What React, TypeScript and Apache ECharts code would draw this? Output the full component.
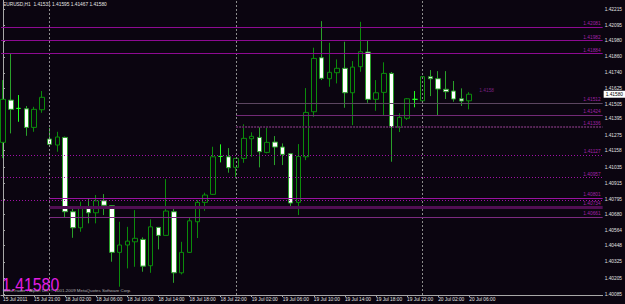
import React, { useEffect, useRef } from "react";
import * as echarts from "echarts";

// ---- data (EURUSD H1, bar 0 = 15 Jul 2011 17:00) ----
const headerText = "EURUSD,H1  1.41531 1.41595 1.41467 1.41580";
const lastPrice = 1.4158;
const lastPriceText = "1.41580";
const copyrightText = "MetaTrader - Alpari UK, © 2001-2009 MetaQuotes Software Corp.";

const opens = [1.41220, 1.41536, 1.41474, 1.41471, 1.41332, 1.41464, 1.41245, 1.41200, 1.41257, 1.40701, 1.40581, 1.40736, 1.40693, 1.40783, 1.40746, 1.40397, 1.40452, 1.40476, 1.40494, 1.40297, 1.40584, 1.40524, 1.40701, 1.40244, 1.40397, 1.40626, 1.40771, 1.40831, 1.41115, 1.41112, 1.41033, 1.41100, 1.41247, 1.41257, 1.41145, 1.41222, 1.41185, 1.41135, 1.40771, 1.41112, 1.41449, 1.41853, 1.41696, 1.41741, 1.41774, 1.41591, 1.41786, 1.41896, 1.41542, 1.41594, 1.41736, 1.41332, 1.41400, 1.41542, 1.41531, 1.41711, 1.41696, 1.41617, 1.41604, 1.41546, 1.41531];
const closes = [1.41542, 1.41467, 1.41474, 1.41332, 1.41467, 1.41557, 1.41205, 1.41260, 1.40701, 1.40581, 1.40734, 1.40693, 1.40783, 1.40749, 1.40397, 1.40452, 1.40481, 1.40502, 1.40294, 1.40588, 1.40524, 1.40706, 1.40244, 1.40397, 1.40633, 1.40771, 1.40826, 1.41112, 1.41115, 1.41030, 1.41100, 1.41250, 1.41265, 1.41150, 1.41220, 1.41185, 1.41130, 1.40766, 1.41115, 1.41444, 1.41848, 1.41699, 1.41744, 1.41774, 1.41591, 1.41783, 1.41898, 1.41542, 1.41591, 1.41736, 1.41332, 1.41407, 1.41546, 1.41542, 1.41711, 1.41696, 1.41619, 1.41599, 1.41544, 1.41529, 1.41580];
const lows = [1.41102, 1.41287, 1.41374, 1.41269, 1.41299, 1.41441, 1.41192, 1.41150, 1.40659, 1.40506, 1.40551, 1.40614, 1.40614, 1.40676, 1.40327, 1.40140, 1.40277, 1.40289, 1.40252, 1.40244, 1.40419, 1.40522, 1.40169, 1.40232, 1.40392, 1.40504, 1.40708, 1.40826, 1.41070, 1.40993, 1.40951, 1.41067, 1.41112, 1.41033, 1.41138, 1.41050, 1.41050, 1.40734, 1.40676, 1.41087, 1.41411, 1.41686, 1.41636, 1.41661, 1.41479, 1.41349, 1.41748, 1.41516, 1.41456, 1.41417, 1.41075, 1.41297, 1.41387, 1.41482, 1.41524, 1.41566, 1.41424, 1.41544, 1.41524, 1.41492, 1.41467];
const highs = [1.41686, 1.41886, 1.41574, 1.41492, 1.41486, 1.41604, 1.41329, 1.41299, 1.41263, 1.40726, 1.40776, 1.40801, 1.40826, 1.40833, 1.40751, 1.40626, 1.40588, 1.40713, 1.40509, 1.40644, 1.40586, 1.40945, 1.40726, 1.40476, 1.40659, 1.40788, 1.40843, 1.41187, 1.41205, 1.41177, 1.41102, 1.41355, 1.41295, 1.41332, 1.41329, 1.41267, 1.41212, 1.41140, 1.41207, 1.41626, 1.41928, 1.42127, 1.41965, 1.41841, 1.41973, 1.41828, 1.42122, 1.41980, 1.41686, 1.41819, 1.41746, 1.41437, 1.41551, 1.41604, 1.41716, 1.41761, 1.41753, 1.41753, 1.41679, 1.41624, 1.41595];

const timeTickIndex = [0, 4, 8, 12, 16, 20, 24, 28, 32, 36, 40, 44, 48, 52, 56, 60];
const timeTickLabels = ["15 Jul 2011", "15 Jul 21:00", "18 Jul 02:00", "18 Jul 06:00", "18 Jul 10:00", "18 Jul 14:00", "18 Jul 18:00", "18 Jul 22:00", "19 Jul 02:00", "19 Jul 06:00", "19 Jul 10:00", "19 Jul 14:00", "19 Jul 18:00", "19 Jul 22:00", "20 Jul 02:00", "20 Jul 06:00"];
const priceTicks = [1.42215, 1.42095, 1.4198, 1.4186, 1.4174, 1.41625, 1.41505, 1.41395, 1.41275, 1.41158, 1.41035, 1.40915, 1.40795, 1.4068, 1.40564, 1.40448, 1.40325, 1.40205, 1.40085];
const daySeparatorBars = [6, 30, 54];

const levelPrices = [1.42081, 1.41982, 1.41884, 1.41512, 1.41424, 1.41336, 1.41127, 1.40957, 1.40801, 1.40786, 1.40734, 1.40661];
const levelLabels = ["1.42081", "1.41982", "1.41884", "1.41512", "1.41424", "1.41336", "1.41127", "1.40957", "1.40801", "", "1.40734", "1.40661"];
const levelStartBar: (number | null)[] = [null, null, null, 30, 30, 30, null, null, 6, null, 6, 6];

const priceNote = "1.4158";
const priceNoteBar = 61;

// ---- styles ----
const BG = "#0b0510";
const FONT = "'Liberation Sans', Arial, sans-serif";
const levelStyles = [
  { color: "#8e0a92", width: 1, type: "solid" },
  { color: "#8e0a92", width: 1, type: "solid" },
  { color: "#8e0a92", width: 1, type: "solid" },
  { color: "#5c4660", width: 1, type: "solid" },
  { color: "#722a76", width: 1, type: "solid" },
  { color: "#552555", width: 2, type: [2, 1] },
  { color: "#a010a6", width: 1, type: [1, 2] },
  { color: "#a010a6", width: 1, type: [1, 2] },
  { color: "#9a12a0", width: 1, type: "solid" },
  { color: "#a010a6", width: 1, type: [1, 2] },
  { color: "#500e52", width: 3, type: "solid" },
  { color: "#7c2a80", width: 1, type: "solid" },
];

const XMIN = -0.255;
const XMAX = 77.17;

export default function App() {
  const ref = useRef<HTMLDivElement>(null);
  useEffect(() => {
    const chart = echarts.init(ref.current!, null, { renderer: "svg" });
    const candleData = opens.map((o, i) => [i, o, closes[i], lows[i], highs[i]]);

    const markData: any[] = [];
    daySeparatorBars.forEach((b) =>
      markData.push({
        xAxis: b,
        lineStyle: { color: "#8c8c8c", width: 1, type: [2, 2] },
        label: { show: false },
      })
    );
    levelPrices.forEach((p, i) => {
      const st = levelStyles[i];
      const label = levelLabels[i]
        ? {
            show: true,
            formatter: levelLabels[i],
            position: "insideEndTop",
            color: "#a222a8",
            fontSize: 4.8,
            fontFamily: FONT,
            distance: [2, 1],
          }
        : { show: false };
      const s = levelStartBar[i];
      markData.push([
        { coord: [s == null ? XMIN : s, p], lineStyle: st, label },
        { coord: [XMAX, p] },
      ]);
    });
    markData.push({
      yAxis: lastPrice,
      lineStyle: { color: "rgba(0,0,0,0)", width: 0 },
      label: {
        show: true,
        position: "end",
        formatter: lastPriceText,
        backgroundColor: "#ffffff",
        color: "#000000",
        opacity: 1,
        fontSize: 4.8,
        fontFamily: FONT,
        padding: [1, 2],
        distance: 1,
      },
    });

    chart.setOption({
      animation: false,
      backgroundColor: BG,
      grid: { left: 0, right: 18, top: 0, bottom: 9, containLabel: false },
      xAxis: {
        type: "value",
        min: XMIN,
        max: XMAX,
        splitLine: { show: false },
        axisLine: { show: true, lineStyle: { color: "#a8a8a8", width: 1 } },
        axisTick: { show: true, length: 2, customValues: timeTickIndex, lineStyle: { color: "#a8a8a8" } },
        axisLabel: {
          customValues: timeTickIndex,
          formatter: (v: number) => {
            const k = timeTickIndex.indexOf(Math.round(v));
            return k >= 0 ? timeTickLabels[k] : "";
          },
          align: "left",
          margin: 2,
          color: "#e0e0e0",
          fontSize: 4.8,
          fontFamily: FONT,
        },
      },
      yAxis: {
        type: "value",
        position: "right",
        min: 1.40078,
        max: 1.42285,
        scale: true,
        splitLine: { show: false },
        axisLine: { show: true, lineStyle: { color: "#a8a8a8", width: 1 } },
        axisTick: { show: true, length: 2, customValues: priceTicks, lineStyle: { color: "#a8a8a8" } },
        axisLabel: {
          customValues: priceTicks,
          formatter: (v: number) => v.toFixed(5),
          margin: 2,
          color: "#e0e0e0",
          fontSize: 4.8,
          fontFamily: FONT,
        },
      },
      series: [
        {
          type: "candlestick",
          data: candleData,
          barWidth: 5,
          itemStyle: {
            color: BG,
            color0: "#ffffff",
            borderColor: "#0b8c0b",
            borderColor0: "#2aa02a",
            borderColorDoji: "#22ff22",
            borderWidth: 1,
          },
          markLine: {
            silent: true,
            precision: 5,
            symbol: ["none", "none"],
            animation: false,
            data: markData,
          },
        },
      ],
      graphic: [
        {
          type: "text",
          left: 3,
          top: 2,
          style: { text: headerText, fill: "#e6e6e6", fontSize: 4.8, fontFamily: FONT },
        },
        {
          type: "text",
          x: 2,
          y: 285,
          scaleX: 0.88,
          style: { text: lastPriceText, fill: "#e41ee4", fontSize: 18, fontFamily: FONT, verticalAlign: "middle" },
        },
        {
          type: "text",
          x: 3,
          y: 290.3,
          style: { text: copyrightText, fill: "#b4b4b4", fontSize: 4.4, fontFamily: FONT, verticalAlign: "middle" },
        },
        {
          type: "text",
          x: 2 + (priceNoteBar - 0.12) * 7.84,
          y: 90.7,
          style: { text: priceNote, fill: "#7a2280", fontSize: 4.8, fontFamily: FONT, verticalAlign: "middle" },
        },
      ],
    });
    return () => chart.dispose();
  }, []);
  return (
    <div
      ref={ref}
      style={{ position: "fixed", left: 0, top: 0, width: 625, height: 304, background: BG }}
    />
  );
}
